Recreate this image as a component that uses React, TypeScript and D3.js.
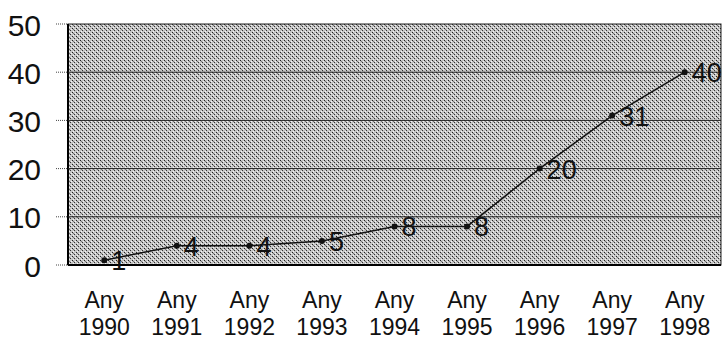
import React from "react";
import * as d3 from "d3";

const categories = ["1990", "1991", "1992", "1993", "1994", "1995", "1996", "1997", "1998"];
const prefix = "Any";
const values = [1, 4, 4, 5, 8, 8, 20, 31, 40];
const yTicks = [0, 10, 20, 30, 40, 50];

export default function App() {
  const W = 722, H = 341;
  const m = { left: 68, right: 1, top: 24, bottom: 76 };
  const x = d3.scaleBand<string>().domain(categories).range([m.left, W - m.right]);
  const y = d3.scaleLinear().domain([0, 50]).range([H - m.bottom, m.top]);
  const line = d3.line<number>().x((_, i) => x(categories[i])! + x.bandwidth() / 2).y((d) => y(d));
  const font = "Arial, 'Liberation Sans', sans-serif";
  return (
    <svg width={W} height={H} style={{ position: "absolute", left: 0, top: 0, background: "#fff" }}>
      <defs>
        <pattern id="stip" width="4" height="4" patternUnits="userSpaceOnUse">
          <rect width="4" height="4" fill="#c4c4c4" />
          <rect x="0" y="0" width="1" height="1" fill="#222" />
          <rect x="2" y="2" width="1" height="1" fill="#333" />
          <rect x="1" y="1" width="1" height="1" fill="#777" />
          <rect x="3" y="1" width="1" height="1" fill="#f4f4f4" />
          <rect x="1" y="3" width="1" height="1" fill="#f4f4f4" />
        </pattern>
      </defs>
      <rect x={m.left} y={m.top} width={W - m.left - m.right} height={H - m.top - m.bottom} fill="url(#stip)" stroke="#222" strokeWidth={1} />
      <line x1={m.left} x2={m.left} y1={m.top} y2={y(0)} stroke="#000" strokeWidth={2} />
      <line x1={m.left} x2={W - m.right} y1={y(0)} y2={y(0)} stroke="#000" strokeWidth={2} />
      {yTicks.map((t) => (
        <g key={t}>
          {t > 0 && t < 50 && (
            <line x1={m.left} x2={W - m.right} y1={y(t)} y2={y(t)} stroke="#222" strokeWidth={1} />
          )}
          <line x1={56} x2={m.left} y1={y(t)} y2={y(t)} stroke="#444" strokeWidth={1} strokeDasharray="1,1" />
          <text x={41} y={y(t) + 1} textAnchor="end" dominantBaseline="central" fontFamily={font} fontSize={30} fill="#111">
            {t}
          </text>
        </g>
      ))}
      <path d={line(values)!} fill="none" stroke="#111" strokeWidth={1.5} />
      {values.map((v, i) => {
        const cx = x(categories[i])! + x.bandwidth() / 2;
        return (
          <g key={i}>
            <circle cx={cx} cy={y(v)} r={3} fill="#111" />
            <text x={cx + 7} y={y(v) + 1} dominantBaseline="central" fontFamily={font} fontSize={27} fill="#111">
              {v}
            </text>
          </g>
        );
      })}
      {categories.map((c) => {
        const cx = x(c)! + x.bandwidth() / 2;
        return (
          <g key={c} fontFamily={font} fontSize={23} fill="#111" textAnchor="middle">
            <text x={cx} y={308}>{prefix}</text>
            <text x={cx} y={335}>{c}</text>
          </g>
        );
      })}
    </svg>
  );
}
